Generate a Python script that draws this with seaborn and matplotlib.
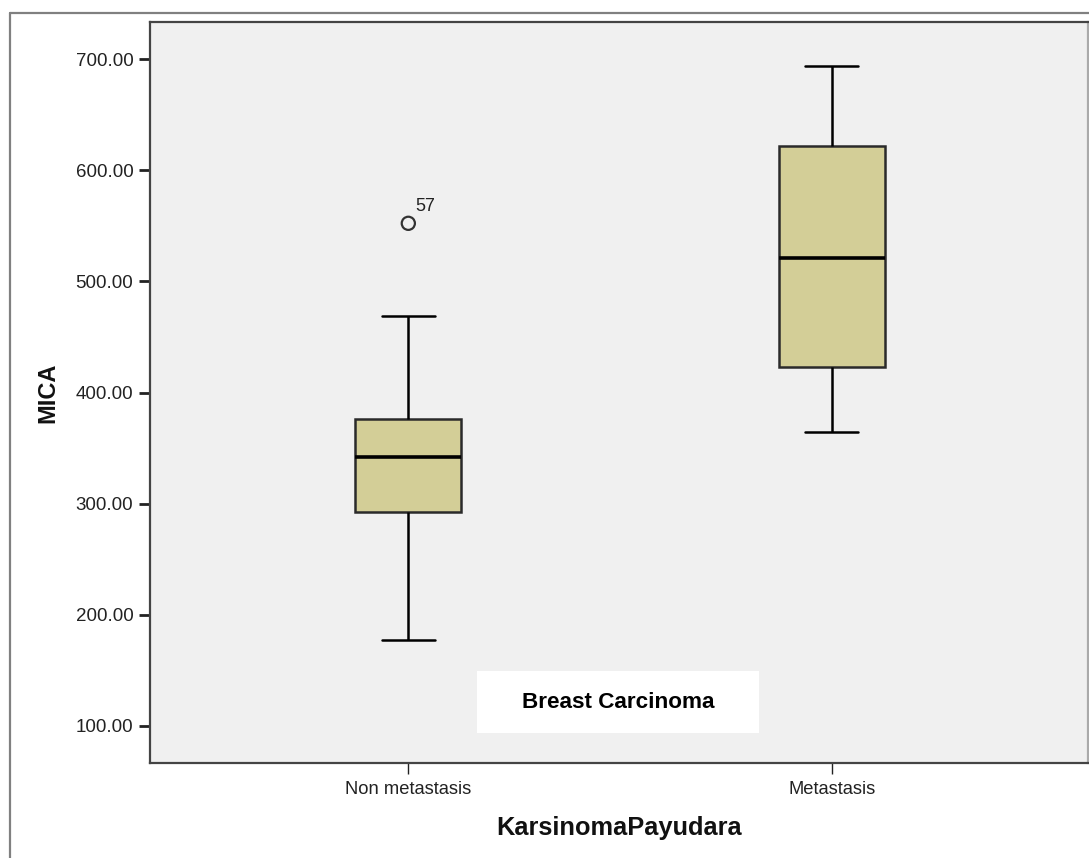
import matplotlib
matplotlib.use("Agg")
import matplotlib.pyplot as plt
import matplotlib.patches as mpatches
from matplotlib.lines import Line2D
import pandas as pd
import seaborn as sns

# five-number summaries
groups = ["Non metastasis", "Metastasis"]
whisker_low = [177.4, 364.2]
q1 = [292.8, 423.2]
median = [342.3, 520.7]
q3 = [376.2, 621.7]
whisker_high = [469.1, 694.0]

# single outlier (case 57) in the non metastasis group
outlier_group = "Non metastasis"
outlier_value = 552.2
outlier_label = "57"

y_ticks = [100, 200, 300, 400, 500, 600, 700]

rows = []
for i, g in enumerate(groups):
    for v in (whisker_low[i], q1[i], median[i], q3[i], whisker_high[i]):
        rows.append({"KarsinomaPayudara": g, "MICA": v})
df = pd.DataFrame(rows)

sns.set_theme(style="ticks")
plt.rcParams["font.family"] = ["Liberation Sans", "DejaVu Sans"]

fig = plt.figure(figsize=(10.89, 8.58), dpi=100)
fig.patch.set_facecolor("white")
ax = fig.add_axes([150 / 1089, 1 - 763 / 858, 938 / 1089, 741 / 858])
ax.set_facecolor("#f0f0f0")

sns.boxplot(
    data=df, x="KarsinomaPayudara", y="MICA", order=groups,
    width=0.25, color="#d3ce97", saturation=1, linecolor="black",
    linewidth=1.8, showfliers=False, ax=ax,
    boxprops={"edgecolor": "#2a2a2a"},
    medianprops={"color": "black", "linewidth": 2.6},
)

ox = groups.index(outlier_group)
ax.scatter([ox], [outlier_value], s=90, facecolors="none",
           edgecolors="#333333", linewidths=1.6, zorder=5)
ax.annotate(outlier_label, (ox, outlier_value), xytext=(5, 6),
            textcoords="offset points", ha="left", va="bottom",
            fontsize=13, color="#222222")

# white label box
box_x0 = (477 - 150) / 938
box_y0 = (763 - 733) / 741
ax.add_patch(mpatches.Rectangle((box_x0, box_y0), 282 / 938, 62 / 741,
                                transform=ax.transAxes, facecolor="white",
                                edgecolor="none", zorder=3))
ax.text(box_x0 + 141 / 938, box_y0 + 31 / 741, "Breast Carcinoma",
        transform=ax.transAxes, ha="center", va="center",
        fontsize=16.2, fontweight="bold", color="black", zorder=4)

ax.set_ylim(66.7, 733.3)
ax.set_xlim(-0.61, 1.605)
ax.set_yticks(y_ticks)
ax.set_yticklabels([f"{t:.2f}" for t in y_ticks])
ax.tick_params(axis="y", length=8, width=2, pad=4, labelsize=13.5,
               colors="#222222")
ax.tick_params(axis="x", length=8, width=1, pad=5, labelsize=13.2,
               colors="#222222")

for side in ["left", "bottom", "top", "right"]:
    ax.spines[side].set_visible(True)
    ax.spines[side].set_color("#444444")
    ax.spines[side].set_linewidth(1.6)
ax.spines["right"].set_color("#aaaaaa")

ax.set_xlabel("KarsinomaPayudara", fontsize=18.3, fontweight="bold",
              labelpad=13, color="#111111")
ax.set_ylabel("MICA", fontsize=17, fontweight="bold", labelpad=12,
              color="#111111")

# outer frame of the SPSS output
fig.add_artist(Line2D([10 / 1089, 1], [1 - 13 / 858, 1 - 13 / 858],
                      color="#808080", linewidth=1.6))
fig.add_artist(Line2D([10 / 1089, 10 / 1089], [0, 1 - 13 / 858],
                      color="#808080", linewidth=1.6))

fig.savefig("out.png", dpi=100)
